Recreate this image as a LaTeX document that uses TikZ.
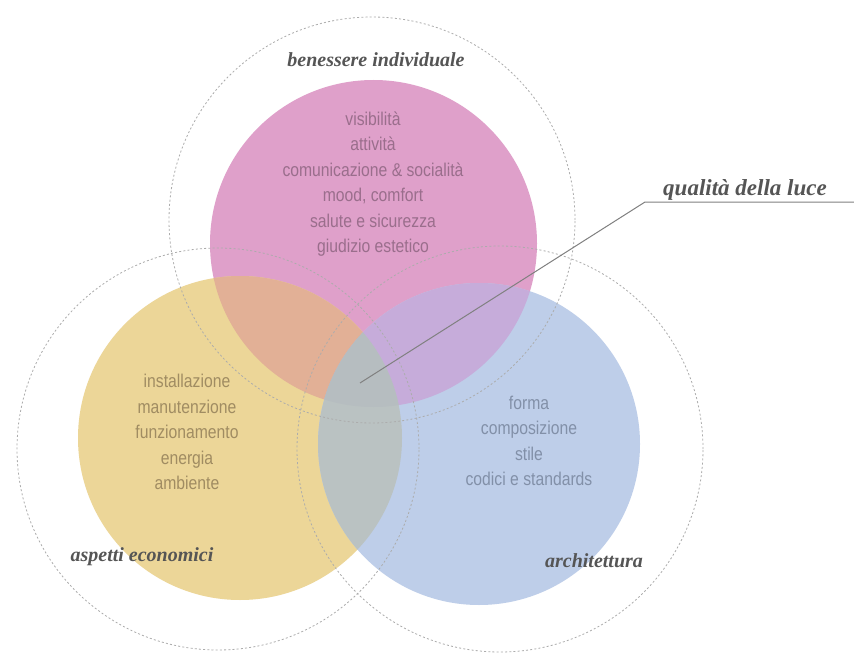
\documentclass[tikz,border=0pt]{standalone}
\usepackage{fontspec}
\setmainfont{Liberation Serif}
\newfontfamily\thinsans[FakeStretch=0.85]{Liberation Sans}
\usetikzlibrary{positioning}

\definecolor{pinkA}{HTML}{DFA0CA}
\definecolor{yellowA}{HTML}{ECD698}
\definecolor{blueA}{HTML}{BECEE9}
\definecolor{pinkyellow}{HTML}{E2B096}
\definecolor{pinkblue}{HTML}{C6ACDA}
\definecolor{yellowblue}{HTML}{BAC2C2}
\definecolor{allthree}{HTML}{B6BDC0}
\definecolor{labelgray}{HTML}{555555}
\definecolor{pinktxt}{HTML}{9A6E8C}
\definecolor{yellowtxt}{HTML}{A08C62}
\definecolor{bluetxt}{HTML}{8290A8}

\tikzset{
  ring/.style={draw=gray!65, line width=0.8pt, dash pattern=on 2pt off 2.2pt},
  topic/.style={font=\bfseries\itshape\fontsize{20}{24}\selectfont, text=labelgray},
  items/.style={align=center, font=\thinsans\fontsize{18.5}{25.5}\selectfont},
}

\begin{document}
\begin{tikzpicture}[x=1pt,y=-1pt]
    \useasboundingbox (0,0) rectangle (854,658);
    \fill[white] (0,0) rectangle (854,658);

    % centres of the coloured discs and of the dashed rings
    \coordinate (P) at (373.5,243.5);
    \coordinate (Y) at (240,438);
    \coordinate (B) at (479,444);
    \coordinate (Pr) at (372,220);
    \coordinate (Yr) at (218,449);
    \coordinate (Br) at (500,449);

    % discs
    \fill[pinkA] (P) circle[radius=163.5pt];
    \fill[yellowA] (Y) circle[radius=162pt];
    \fill[blueA] (B) circle[radius=161pt];

    % overlaps
    \begin{scope}
        \clip (P) circle[radius=163.5pt];
        \fill[pinkyellow] (Y) circle[radius=162pt];
        \fill[pinkblue] (B) circle[radius=161pt];
    \end{scope}
    \begin{scope}
        \clip (Y) circle[radius=162pt];
        \fill[yellowblue] (B) circle[radius=161pt];
        \clip (B) circle[radius=161pt];
        \fill[allthree] (P) circle[radius=163.5pt];
    \end{scope}

    % dashed rings
    \draw[ring] (Pr) circle[radius=203pt];
    \draw[ring] (Yr) circle[radius=201pt];
    \draw[ring] (Br) circle[radius=203pt];

    % headings
    \node[topic] (ben) at (376,60) {benessere individuale};
    \node[topic] (eco) at (142,557) {aspetti economici};
    \node[topic] (arc) at (594,561) {architettura};

    % contents
    \node[items, text=pinktxt] (benlist) at (373,184)
        {visibilità\\attività\\comunicazione \& socialità\\mood, comfort\\salute e sicurezza\\giudizio estetico};
    \node[items, text=yellowtxt] (ecolist) at (187,432)
        {installazione\\manutenzione\\funzionamento\\energia\\ambiente};
    \node[items, text=bluetxt] (arclist) at (529,441)
        {forma\\composizione\\stile\\codici e standards};

    % pointer to the centre
    \node[topic, font=\bfseries\itshape\fontsize{23}{27}\selectfont, anchor=base] (qual) at (745,195) {qualità della luce};
    \coordinate (focus) at (360,383);
    \coordinate (knee) at (645,202);
    \coordinate (tail) at (854,202);
    \draw[gray, line width=1pt] (focus) -- (knee) -- (tail);
\end{tikzpicture}
\end{document}
